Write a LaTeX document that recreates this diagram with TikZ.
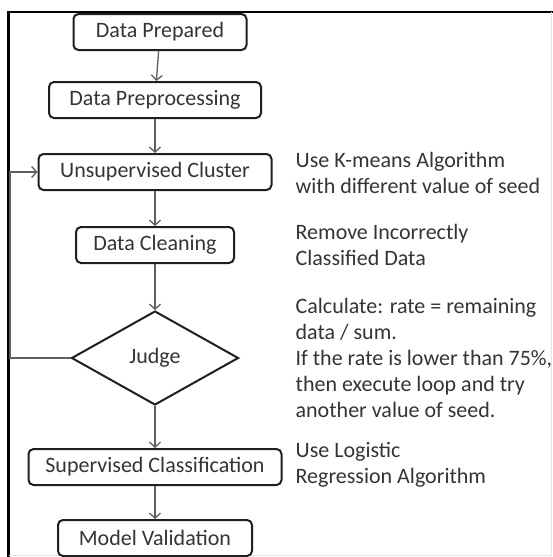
\documentclass[tikz,border=0pt]{standalone}
\usepackage{fontspec}
\setmainfont{Carlito}
\usepackage{tikz}
\usetikzlibrary{arrows.meta}
\usetikzlibrary{shapes.geometric}
\definecolor{dgrey}{RGB}{52,52,52}
\definecolor{agrey}{RGB}{95,95,95}
\definecolor{lgrey}{RGB}{228,228,228}

\begin{document}
\begin{tikzpicture}[x=1pt,y=-1pt,->,>={Straight Barb[length=5pt,width=11pt]},line width=1.3pt,
    node distance=71pt,font=\fontsize{22}{26}\selectfont]
      \tikzstyle{procbox}=[draw=black!88,line width=2pt,rounded corners=5pt,minimum height=36pt,inner ysep=0pt,text=dgrey]
      \tikzstyle{judgebox}=[diamond,draw=black!88,line width=2pt,minimum width=167pt,minimum height=94pt,inner sep=0pt,text=dgrey]
      \tikzstyle{note}=[align=left,anchor=west,inner sep=0pt,text=dgrey]

      \clip (0,0) rectangle (553,557);
      % frame
      \draw[-,line width=2.6pt] (553,12) -- (8.5,12) -- (8.5,557);
      \draw[-,lgrey,line width=1pt] (551,12) -- (551,555) -- (8.5,555);

      \node[procbox,minimum width=173pt]	(A) at (160,32) {Data Prepared};
      \node[procbox,minimum width=212pt]	(B) [below of = A, node distance=68pt, xshift=-5pt] {Data Preprocessing};
      \node[procbox,minimum width=233pt]	(C) [below of = B, node distance=72pt] {Unsupervised Cluster};
      \node[procbox,minimum width=158pt]	(D) [below of = C, node distance=73pt] {Data Cleaning};
      \node[judgebox]				(J) [below of = D, node distance=113pt] {Judge};
      \node[procbox,minimum width=253pt]	(E) [below of = J, node distance=109pt] {Supervised Classification};
      \node[procbox,minimum width=194pt]	(F) [below of = E, node distance=71pt] {Model Validation};
      \coordinate (L) at (10,358);

      % remarks on the right
      \node[note] (nC) at (295,172.5) {Use K-means Algorithm\\with different value of seed};
      \node[note] (nD) at (295,245) {Remove Incorrectly\\Classified Data};
      \node[note] (nJ) at (295,358) {Calculate: rate = remaining\\data / sum.\\If the rate is lower than 75\%,\\then execute loop and try\\another value of seed.};
      \node[note] (nE) at (295,465) {Use Logistic\\Regression Algorithm};

      \path[draw=agrey]
	(A) edge	(B)
	(B) edge	(C)
	(C) edge	(D)
	(D) edge	(J)
	(J) edge	(E)
	(E) edge	(F);
      \draw[agrey] (J.west) -- (L) |- (C.west);
\end{tikzpicture}
\end{document}
